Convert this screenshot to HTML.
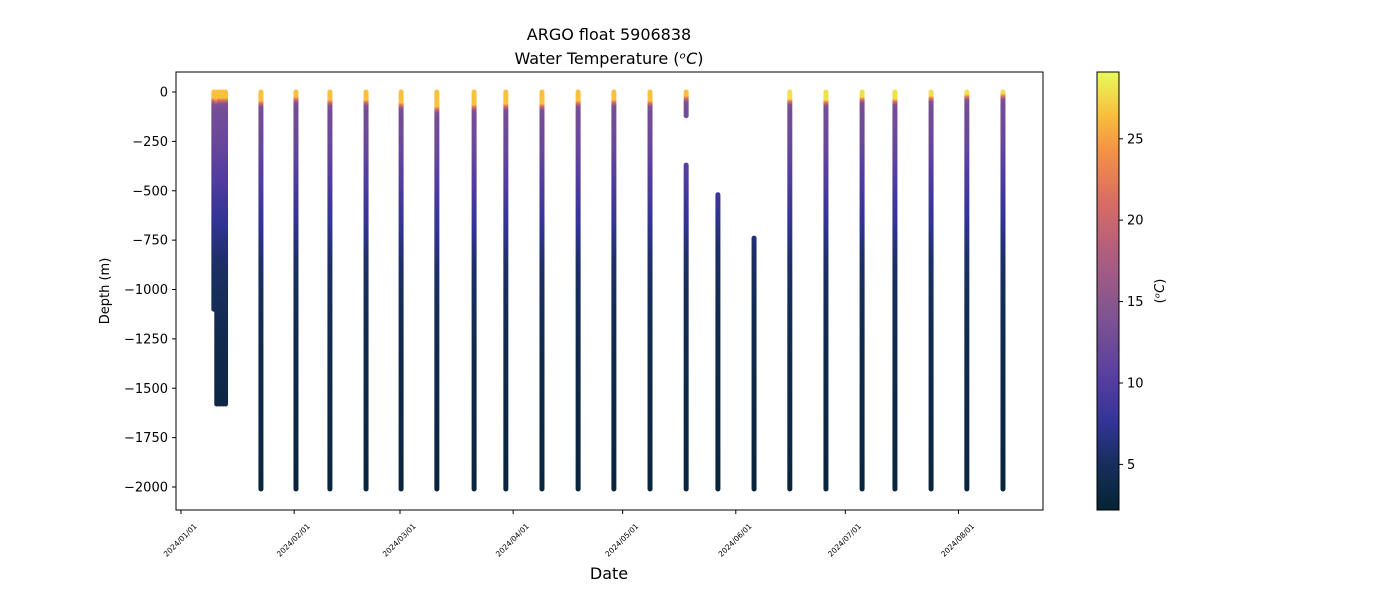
<!DOCTYPE html>
<html><head><meta charset="utf-8"><style>
body{margin:0;background:#fff;}
svg text{font-family:"DejaVu Sans","Liberation Sans",sans-serif;fill:#000;}
</style></head><body>
<svg id="chart" width="1400" height="600" xmlns="http://www.w3.org/2000/svg">
<defs id="defs"></defs>
<text x="609" y="40" font-size="16" text-anchor="middle">ARGO float 5906838</text>
<text x="609" y="64" font-size="16" text-anchor="middle">Water Temperature (<tspan font-style="italic">ᵒC</tspan>)</text>
<g id="plot"></g>
<rect x="176" y="72" width="867" height="438" fill="none" stroke="#000" stroke-width="1"/>
<g id="yticks"></g>
<g id="xticks"></g>
<text transform="translate(109,291) rotate(-90)" font-size="13" text-anchor="middle">Depth (m)</text>
<text x="609" y="579" font-size="16" text-anchor="middle">Date</text>
<g id="cbar"></g>
<text transform="translate(1164,291) rotate(-90)" font-size="13" text-anchor="middle">(<tspan font-style="italic">ᵒC</tspan>)</text>
</svg>
<script>
// data
const profileDays = [9.0, 9.8, 10.6, 11.4, 12.2, 21.9, 31.5, 40.8, 50.7, 60.3, 70.1, 80.3, 89.0, 98.9, 108.8, 118.6, 128.5, 138.4, 147.1, 157.0, 166.8, 176.7, 186.6, 195.6, 205.5, 215.3, 225.2];
const profileTop =    [0, 0, 0, 0, 0, 0, 0, 0, 0, 0, 0, 0, 0, 0, 0, 0, 0, 0, 520, 740, 0, 0, 0, 0, 0, 0, 0];
const profileBottom = [1100, 1580, 1580, 1580, 1580, 2010, 2010, 2010, 2010, 2010, 2010, 2010, 2010, 2010, 2010, 2010, 2010, 2010, 2010, 2010, 2010, 2010, 2010, 2010, 2010, 2010, 2010];
const mixedLayer =    [30, 35, 30, 30, 30, 45, 25, 40, 40, 55, 75, 65, 60, 60, 45, 40, 45, 20, 0, 0, 35, 40, 25, 35, 20, 12, 8];
const surfaceTemp =   [26.5, 26.5, 26.5, 26.5, 26.5, 26.5, 26.5, 26.5, 26.5, 26.5, 26.5, 26.5, 26.5, 26.5, 26.5, 26.5, 26.5, 26.5, 0, 0, 28, 28, 28, 28, 28, 28, 28];
const depthKnots = [0, 30, 200, 500, 800, 1200, 2000];
const tempKnots  = [14, 13, 12, 8.5, 5.5, 4, 2.8];
const gapProfile = 17; // profile with gap between 120 m and 370 m
const yTickValues = [0, -250, -500, -750, -1000, -1250, -1500, -1750, -2000];
const xTickDays = [0, 31, 60, 91, 121, 152, 182, 213];
const xTickLabels = ["2024/01/01","2024/02/01","2024/03/01","2024/04/01","2024/05/01","2024/06/01","2024/07/01","2024/08/01"];
const cbarTicks = [5, 10, 15, 20, 25];

const NS="http://www.w3.org/2000/svg";
const xS = d => 181 + d*3.65;
const yS = v => 92 - v*0.1975;
const tMin=2.2,tMax=29.1;
const cStops=[[0,[4,35,51]],[0.1,[22,45,90]],[0.2,[50,52,150]],[0.3,[85,62,160]],[0.45,[130,84,145]],[0.6,[180,95,125]],[0.7,[215,108,100]],[0.82,[245,145,70]],[0.9,[248,190,60]],[1,[232,250,91]]];
function cmap(t){let n=Math.max(0,Math.min(1,(t-tMin)/(tMax-tMin)));for(let i=1;i<cStops.length;i++){if(n<=cStops[i][0]){const a=cStops[i-1],b=cStops[i],f=(n-a[0])/(b[0]-a[0]);return 'rgb('+a[1].map((c,k)=>Math.round(c+(b[1][k]-c)*f)).join(',')+')';}}return 'rgb(232,250,91)';}
function tempAt(i,z){const m=mixedLayer[i],s=surfaceTemp[i];
 if(s>0){if(z<m)return s; if(z<m+30)return s+(tempKnots[0]-s)*((z-m)/30);}
 const zz=Math.max(0,z-(s>0?m+30:0));
 for(let k=1;k<depthKnots.length;k++){if(zz<=depthKnots[k]){const f=(zz-depthKnots[k-1])/(depthKnots[k]-depthKnots[k-1]);return tempKnots[k-1]+(tempKnots[k]-tempKnots[k-1])*f;}}return tempKnots[tempKnots.length-1];}
function mk(tag,attrs,parent){const e=document.createElementNS(NS,tag);for(const k in attrs)e.setAttribute(k,attrs[k]);parent.appendChild(e);return e;}
const defs=document.getElementById('defs'),plot=document.getElementById('plot');
profileDays.forEach((d,i)=>{
 const g=mk('linearGradient',{id:'g'+i,gradientUnits:'userSpaceOnUse',x1:0,x2:0,y1:yS(0),y2:yS(-2010)},defs);
 for(let z=0;z<=2010;z+=5){mk('stop',{offset:(z/2010).toFixed(4),'stop-color':cmap(tempAt(i,z))},g);}
 const segs = i===gapProfile ? [[0,120],[370,profileBottom[i]]] : [[profileTop[i],profileBottom[i]]];
 segs.forEach(([a,b])=>{
  const l=mk('line',{x1:xS(d),x2:xS(d),y1:yS(-a),y2:yS(-b),stroke:'url(#g'+i+')','stroke-width':5,'stroke-linecap':'round'},plot);
  
  
 });
});
const yt=document.getElementById('yticks');
yTickValues.forEach(v=>{
 const t=mk('line',{x1:172,x2:176,y1:yS(v),y2:yS(v),stroke:'#000'},yt);
 
 
 const tx=mk('text',{x:168,y:yS(v)+4.5,'font-size':13,'text-anchor':'end'},yt);tx.textContent=String(v).replace('-','−');
 
 
});
const xt=document.getElementById('xticks');
xTickDays.forEach((d,i)=>{
 const t=mk('line',{x1:xS(d),x2:xS(d),y1:510,y2:514,stroke:'#000'},xt);
 
 
 const tx=mk('text',{transform:'translate('+(xS(d)+1)+',542) rotate(-45)','font-size':7.5,'text-anchor':'middle'},xt);tx.textContent=xTickLabels[i];
 
 
});
const cb=document.getElementById('cbar');
const cg=mk('linearGradient',{id:'cbg',x1:0,x2:0,y1:1,y2:0},defs);
for(let k=0;k<=40;k++){mk('stop',{offset:k/40,'stop-color':cmap(tMin+(tMax-tMin)*k/40)},cg);}
const cr=mk('rect',{x:1097,y:72,width:22,height:438,fill:'url(#cbg)',stroke:'#000','stroke-width':1},cb);


const cy=v=>510-(v-tMin)/(tMax-tMin)*438;
cbarTicks.forEach(v=>{
 const t=mk('line',{x1:1119,x2:1123,y1:cy(v),y2:cy(v),stroke:'#000'},cb);
 
 
 const tx=mk('text',{x:1127,y:cy(v)+4.5,'font-size':13},cb);tx.textContent=v;
 
 
});
</script>
</body></html>
